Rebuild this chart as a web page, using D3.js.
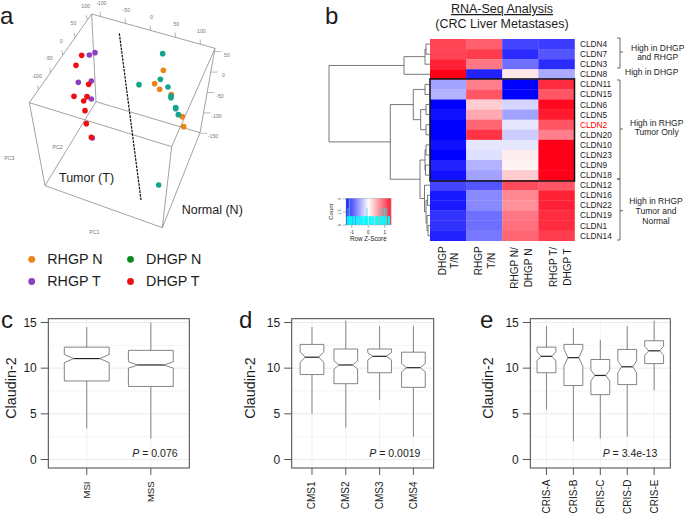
<!DOCTYPE html>
<html><head><meta charset="utf-8">
<script src="https://cdn.jsdelivr.net/npm/d3@7"></script>
<style>html,body{margin:0;padding:0;background:#fff}svg{display:block}text{font-family:"Liberation Sans",Arial,sans-serif;fill:#1c1c1c}</style>
</head><body><svg id="c" width="685" height="515"></svg>
<script>
// ---------- panel a data (projected PC coordinates) ----------
const rhgpTx=[268,285,235,274,274,277], rhgpTy=[165,158,247,243,297,414];
const dhgpTx=[245,228,266,222,261,251,255,259,274], dhgpTy=[166,196,253,289,290,303,332,371,412];
const rhgpNx=[490,464,479,514,547,551], rhgpNy=[211,251,268,284,350,380];
const dhgpNx=[488,481,417,504,513,513,527,527,535,476], dhgpNy=[161,238,254,261,288,293,323,326,344,555];
const pc1Ticks=[-100,-50,0,50,100], pc2Ticks=[100,50,0,-50,-100], pc3Ticks=[50,0,-50,-100,-150];
const legendNames=["RHGP N","RHGP T","DHGP N","DHGP T"];
// ---------- panel b data ----------
const genes=["CLDN4","CLDN7","CLDN3","CLDN8","CLDN11","CLDN15","CLDN6","CLDN5","CLDN2","CLDN20","CLDN10","CLDN23","CLDN9","CLDN18","CLDN12","CLDN16","CLDN22","CLDN19","CLDN1","CLDN14"];
const colDhgpTN=[1.1,1.1,1.3,1.5,-.55,-.45,-1.5,-1.4,-1.5,-1.5,-1.4,-1.5,-1.3,-1.4,-1.1,-1.35,-1.35,-1.2,-1.2,-1.3];
const colRhgpTN=[.95,1.15,.8,-1.3,.75,1.0,.3,.5,.9,1.2,-.15,-.18,-.45,-.55,-1.0,-.7,-.7,-.85,-.85,-.8];
const colRhgpDhgpN=[-1.1,-1.25,-.85,.15,-1.5,-1.5,-.25,-.55,-.15,-.3,-.15,.1,.07,.3,1.05,.7,.65,.8,.85,.9];
const colRhgpDhgpT=[-1.15,-1.0,-1.25,-.5,1.25,1.0,1.45,1.35,1.0,.75,1.5,1.5,1.5,1.5,1.0,1.3,1.3,1.25,1.25,1.15];
const keyCounts=[0,1,2,1,3,1,1,0,1,1,1,0,1,1,1,1,0,1,1,1,1,0,1,1,1,2,1,0,1,1,1,0,1,1,0,1,1,1,1,0,1,2,1,1,2,1,2,2,1,2,0,1,1,0];
const dendro=[[[[["0","1",4],"2",5],"3",26]],
 [[[["4","5",5],[["6","7",4],["8","9",4],9.3],16.7]],
  [[["10","11",4],["12","13",4.5],5],["14",[["15","16",2.5],["17",["18","19",2],3],4],5.5],10],39.7],101];
// ---------- panels c,d,e data: [low,q1,notchLow,median,notchHigh,q3,high] ----------
const msiNames=["MSI","MSS"];
const msiBoxes=[[3.4,8.6,10.6,11.05,11.5,12.3,14.5],[2.3,8,10,10.35,10.7,11.95,15]];
const cmsNames=["CMS1","CMS2","CMS3","CMS4"];
const cmsBoxes=[[5,9.3,10.6,11.2,11.8,12.6,14.5],[3.5,8.3,9.9,10.35,10.8,12.1,15.2],[6.5,9.5,10.9,11.3,11.7,12.1,14.6],[2.5,7.9,9.6,10.05,10.5,11.75,14.6]];
const crisNames=["CRIS-A","CRIS-B","CRIS-C","CRIS-D","CRIS-E"];
const crisBoxes=[[5.5,9.5,10.8,11.3,11.8,12.3,14.6],[2,8.1,10.2,11.15,12.1,12.6,14.4],[2.3,7.1,8.6,9.2,9.8,10.95,13.1],[2.5,8.2,9.5,10.15,10.8,12.05,14.6],[7.6,10.5,11.4,11.9,12.4,13,15.2]];
const yTicks=[0,5,10,15], yMinor=[2.5,7.5,12.5];

const svg=d3.select("#c");
const txt=(g,x,y,s,size,o={})=>{const t=g.append("text").attr("x",x).attr("y",y).attr("font-size",size).attr("text-anchor",o.anchor||"start").text(s);
 if(o.fill)t.style("fill",o.fill); if(o.rot!=null)t.attr("transform",`rotate(${o.rot} ${x} ${y})`); if(o.deco)t.attr("text-decoration",o.deco); if(o.italic)t.attr("font-style","italic"); return t;};

// panel letters
[["a",0,24],["b",325,24],["c",1,328],["d",239,328],["e",480,328]].forEach(d=>txt(svg,d[1],d[2],d[0],24));

// ---------- panel a ----------
const a=svg.append("g");
const px=d3.scaleLinear().domain([0,750]).range([0,250]), py=d3.scaleLinear().domain([0,870]).range([0,290]);
const V={A:[275,42],B:[645,145],C:[88,308],D:[515,440],E:[288,305],F:[600,398],G:[487,683],H:[135,557]};
[["A","B"],["A","C"],["C","D"],["B","D"],["C","H"],["H","G"],["D","G"],["A","E"],["E","F"],["E","H"],["B","F"],["F","G"]].forEach(e=>{
 a.append("line").attr("x1",px(V[e[0]][0])).attr("y1",py(V[e[0]][1])).attr("x2",px(V[e[1]][0])).attr("y2",py(V[e[1]][1])).attr("stroke","#8a8a8a").attr("stroke-width",.8);});
function axis3d(ticks,p0,p1,dx,dy,lx,ly){
 const ex=d3.scalePoint().domain(ticks).range([p0[0],p1[0]]), ey=d3.scalePoint().domain(ticks).range([p0[1],p1[1]]);
 ticks.forEach(t=>{const x=ex(t),y=ey(t);
  a.append("line").attr("x1",px(x)).attr("y1",py(y)).attr("x2",px(x+dx)).attr("y2",py(y+dy)).attr("stroke","#8a8a8a").attr("stroke-width",.6);
  txt(a,px(x+lx),py(y+ly)+1.8,String(t),5.2,{anchor:"middle",fill:"#777"});});
}
axis3d(pc1Ticks,[302,49],[602,132],-2,-14,2,-39);
axis3d(pc2Ticks,[262,60],[115,270],-3,-14,-5,-42);
axis3d(pc3Ticks,[643,155],[601,400],20,0,38,10);
[["PC1",283,697],["PC2",173,441],["PC3",28,475]].forEach(d=>txt(a,px(d[1]),py(d[2])+1.8,d[0],5.2,{anchor:"middle",fill:"#777"}));
a.append("line").attr("x1",px(358)).attr("y1",py(100)).attr("x2",px(423)).attr("y2",py(600)).attr("stroke","#111").attr("stroke-width",1.2).attr("stroke-dasharray","2.6 1");
const pts=(xs,ys,col)=>a.selectAll(null).data(xs).enter().append("circle").attr("cx",d=>px(d)).attr("cy",(d,i)=>py(ys[i])).attr("r",2.8).attr("fill",col);
pts(rhgpTx,rhgpTy,"#8d3fc2");pts(dhgpTx,dhgpTy,"#ee0f14");pts(rhgpNx,rhgpNy,"#ee8216");pts(dhgpNx,dhgpNy,"#12a58e");
txt(a,59,181.7,"Tumor (T)",12.5);txt(a,181.7,214,"Normal (N)",12.5);
const legX=d3.scalePoint().domain([0,1]).range([31.7,130.5]), legY=d3.scalePoint().domain([0,1]).range([259.3,281.5]);
const legCol=["#ee8216","#8d3fc2","#0a8a1c","#ee0f14"];
legendNames.forEach((n,i)=>{const cx=legX(i>>1),cy=legY(i&1);
 a.append("circle").attr("cx",cx).attr("cy",cy).attr("r",3.4).attr("fill",legCol[i]);
 txt(a,cx+15.6,cy+4.8,n,14.3);});

// ---------- panel b ----------
const b=svg.append("g");
txt(b,502,13,"RNA-Seq Analysis",12.5,{anchor:"middle",deco:"underline"});
txt(b,502,28,"(CRC Liver Metastases)",12.5,{anchor:"middle"});
const cols=[colDhgpTN,colRhgpTN,colRhgpDhgpN,colRhgpDhgpT];
const heatX=d3.scaleBand().domain(d3.range(4)).range([430,574.5]);
const heatY=d3.scaleBand().domain(d3.range(genes.length)).range([39,240.7]);
const heatC=d3.scaleLinear().domain([-1.5,0,1.5]).range(["#0000ff","#ffffff","#ff0018"]);
cols.forEach((c,j)=>c.forEach((v,i)=>b.append("rect").attr("x",heatX(j)).attr("y",heatY(i)).attr("width",heatX.bandwidth()+.3).attr("height",heatY.bandwidth()+.3).attr("fill",heatC(v))));
b.append("rect").attr("x",heatX(0)).attr("y",heatY(4)-.4).attr("width",144.5).attr("height",heatY.bandwidth()*10+1.2).attr("fill","none").attr("stroke","#111").attr("stroke-width",1.5);
genes.forEach((g,i)=>txt(b,580,heatY(i)+heatY.bandwidth()/2+3,g,8.3,{fill:g==="CLDN2"?"#f00":"#1c1c1c"}));
// dendrogram
const hx=d3.scaleLinear().domain([0,101]).range([430,329]);
function drawNode(n){
 if(typeof n==="string")return {y:heatY(+n)+heatY.bandwidth()/2,x:hx(0)};
 if(n.length===1)return drawNode(n[0]);
 const h=n[n.length-1],kids=n.slice(0,-1).map(drawNode),x=hx(h),y=d3.mean(kids,k=>k.y);
 const path=d3.path();
 path.moveTo(kids[0].x,kids[0].y);path.lineTo(x,kids[0].y);path.lineTo(x,kids[1].y);path.lineTo(kids[1].x,kids[1].y);
 b.append("path").attr("d",path.toString()).attr("fill","none").attr("stroke","#555").attr("stroke-width",.8);
 return {x,y};
}
drawNode(dendro);
// brackets
[[38,68,52],[80,179,129],[179,240,210.7]].forEach(d=>{
 b.append("path").attr("d",`M617,${d[0]}H620V${d[1]}H617M620,${d[2]}H623`).attr("fill","none").attr("stroke","#444").attr("stroke-width",.8);});
[["High in DHGP",657.7,50.7],["and RHGP",657.7,60],["High in DHGP",651.7,75.3],["High in RHGP",656.7,125.7],["Tumor Only",656.7,135],["High in RHGP",656,204],["Tumor and",656,214],["Normal",656,224]]
 .forEach(d=>txt(b,d[1],d[2],d[0],8.5,{anchor:"middle"}));
[["DHGP",446,260.7],["T/N",458,260.7],["RHGP",482,260.7],["T/N",495,260.7],["RHGP N/",518,268],["DHGP N",532,268],["RHGP T/",557,267],["DHGP T",570.7,267]]
 .forEach(d=>txt(b,d[1],d[2],d[0],10,{anchor:"middle",rot:-90}));
// colour key
const keyX=d3.scaleLinear().domain([-1.35,1.36]).range([346,390.7]), keyY=d3.scaleLinear().domain([0,3]).range([225,199]);
d3.range(-1.35,1.36,.03).forEach(v=>b.append("rect").attr("x",keyX(v)).attr("y",198.3).attr("width",keyX(.03)-keyX(0)+.2).attr("height",26.7).attr("fill",heatC(v*1.11)));
keyCounts.forEach((c,i)=>{ if(!c)return; const v=-1.35+i*.05;
 b.append("rect").attr("x",keyX(v)).attr("y",keyY(c)).attr("width",.75).attr("height",keyY(0)-keyY(c)).attr("fill",c>1?"#4fd0d0":"#00ffff");
 b.append("rect").attr("x",keyX(v)).attr("y",keyY(1)).attr("width",keyX(.05)-keyX(0)).attr("height",keyY(0)-keyY(1)).attr("fill","#00ffff");});
b.append("rect").attr("x",346).attr("y",198.3).attr("width",44.7).attr("height",26.7).attr("fill","none").attr("stroke","#999").attr("stroke-width",.4);
[-1,0,1].forEach(t=>{b.append("line").attr("x1",keyX(t)).attr("x2",keyX(t)).attr("y1",225).attr("y2",228).attr("stroke","#666").attr("stroke-width",.5);
 txt(b,keyX(t),234,String(t),4.6,{anchor:"middle"});});
[0,1.5,3].forEach(t=>{b.append("line").attr("x1",343).attr("x2",346).attr("y1",keyY(t)).attr("y2",keyY(t)).attr("stroke","#666").attr("stroke-width",.5);
 txt(b,340.5,keyY(t),String(t),4,{anchor:"middle",rot:-90});});
txt(b,368.3,241.3,"Row Z-Score",6.3,{anchor:"middle"});
txt(b,333,211.7,"Count",6,{anchor:"middle",rot:-90});

// ---------- panels c,d,e ----------
function boxPanel(names,boxes,o){
 const g=svg.append("g");
 const x=d3.scalePoint().domain(names).range([o.l,o.r]).padding(.6), step=x.step(), hw=step*.35;
 const y=d3.scaleLinear().domain([0,15]).range([459.5,322.5]);
 const T=318.7,B=468;
 yTicks.concat(yMinor).forEach(t=>g.append("line").attr("x1",o.l).attr("x2",o.r).attr("y1",y(t)).attr("y2",y(t)).attr("stroke",yTicks.includes(t)?"#e6e6e6":"#f1f1f1").attr("stroke-width",.8));
 names.forEach(n=>g.append("line").attr("x1",x(n)).attr("x2",x(n)).attr("y1",T).attr("y2",B).attr("stroke","#eeeeee").attr("stroke-width",.8));
 boxes.forEach((d,i)=>{const c=x(names[i]);const [lo,q1,nl,m,nh,q3,hi]=d;
  g.append("line").attr("x1",c).attr("x2",c).attr("y1",y(q3)).attr("y2",y(hi)).attr("stroke","#777").attr("stroke-width",.9);
  g.append("line").attr("x1",c).attr("x2",c).attr("y1",y(q1)).attr("y2",y(lo)).attr("stroke","#777").attr("stroke-width",.9);
  const p=d3.path(),n=hw*.58;
  p.moveTo(c-hw,y(q1));p.lineTo(c+hw,y(q1));p.lineTo(c+hw,y(nl));p.lineTo(c+n,y(m));p.lineTo(c+hw,y(nh));p.lineTo(c+hw,y(q3));
  p.lineTo(c-hw,y(q3));p.lineTo(c-hw,y(nh));p.lineTo(c-n,y(m));p.lineTo(c-hw,y(nl));p.closePath();
  g.append("path").attr("d",p.toString()).attr("fill","#fff").attr("stroke","#666").attr("stroke-width",.8);
  g.append("line").attr("x1",c-n).attr("x2",c+n).attr("y1",y(m)).attr("y2",y(m)).attr("stroke","#222").attr("stroke-width",1.2);
 });
 g.append("rect").attr("x",o.l).attr("y",T).attr("width",o.r-o.l).attr("height",B-T).attr("fill","none").attr("stroke","#444").attr("stroke-width",1);
 yTicks.forEach(t=>{g.append("line").attr("x1",o.l-7.5).attr("x2",o.l).attr("y1",y(t)).attr("y2",y(t)).attr("stroke","#444").attr("stroke-width",.9);
  txt(g,o.l-11.5,y(t)+4.3,String(t),12,{anchor:"end"});});
 names.forEach(n=>{g.append("line").attr("x1",x(n)).attr("x2",x(n)).attr("y1",B).attr("y2",B+7).attr("stroke","#444").attr("stroke-width",.9);
  txt(g,x(n)+3.5,o.lt||481.5,n,o.fs,{anchor:"end",rot:-90});});
 txt(g,o.yl,388,"Claudin-2",14.4,{anchor:"middle",rot:-90});
 const pt=txt(g,o.px,456.7,"",10.5);
 pt.append("tspan").attr("font-style","italic").text("P");
 pt.append("tspan").text(" = "+o.p);
}
boxPanel(msiNames,msiBoxes,{l:48.3,r:189.3,fs:9.5,yl:16,px:132.3,p:"0.076"});
boxPanel(cmsNames,cmsBoxes,{l:291.7,r:433.7,fs:10,yl:255,px:369.3,p:"0.0019"});
boxPanel(crisNames,crisBoxes,{l:530.3,r:670.3,fs:10,yl:493.3,px:602.7,p:"3.4e-13",lt:479.5});
</script></body></html>
